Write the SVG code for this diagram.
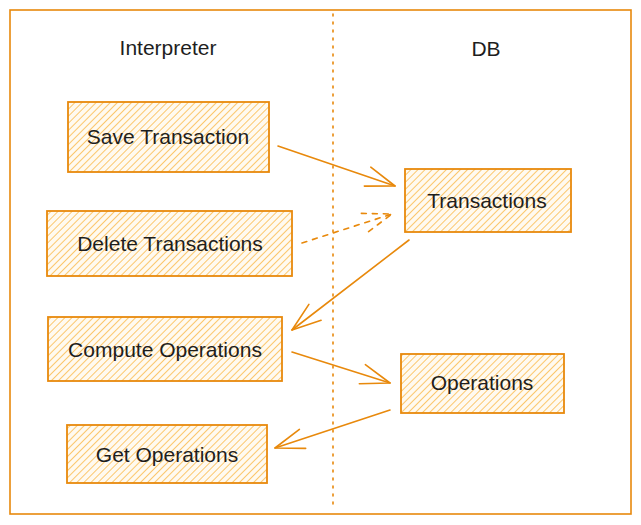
<svg xmlns="http://www.w3.org/2000/svg" width="641" height="525" viewBox="0 0 641 525">
<style>
.frame{fill:#ffffff;stroke:#e8890c;stroke-width:1.6}
.box{fill:url(#hatch);stroke:#e8890c;stroke-width:1.8}
.lbl{font-family:"Liberation Sans",Arial,sans-serif;font-size:21px;fill:#1e1e1e;text-anchor:middle}
.conn{fill:none;stroke:#e8890c;stroke-width:1.6;stroke-linecap:round}
.dash{stroke-dasharray:5 6}
.divider{fill:none;stroke:#e8890c;stroke-width:1.6;stroke-dasharray:2 6;stroke-linecap:round}
</style>
<defs>
<pattern id="hatch" patternUnits="userSpaceOnUse" width="5" height="5" patternTransform="rotate(45)">
<rect width="5" height="5" fill="#fffaf0"/>
<line x1="0" y1="0" x2="0" y2="5" stroke="#fbc15e" stroke-width="1.8"/>
</pattern>
<marker id="arr" markerUnits="userSpaceOnUse" markerWidth="40" markerHeight="30" viewBox="-32 -15 40 30" refX="0" refY="0" orient="auto" overflow="visible">
<path d="M-29,-10 L0,0 L-29,10" fill="none" stroke="#e8890c" stroke-width="1.6" stroke-linecap="round" stroke-linejoin="round"/>
</marker>
<marker id="arrd" markerUnits="userSpaceOnUse" markerWidth="40" markerHeight="30" viewBox="-32 -15 40 30" refX="0" refY="0" orient="auto" overflow="visible">
<path d="M-29,-10 L0,0 L-29,10" fill="none" stroke="#e8890c" stroke-width="1.6" stroke-linecap="round" stroke-dasharray="5 6"/>
</marker>
</defs>
<rect width="641" height="525" fill="#ffffff"/>
<rect class="frame" x="10" y="10" width="621" height="504"/>
<line class="divider" x1="333" y1="14" x2="333" y2="510"/>
<text class="lbl" x="168" y="55">Interpreter</text>
<text class="lbl" x="486" y="56">DB</text>

<g id="save-transaction">
<rect class="box" x="68" y="102" width="201" height="70"/>
<text class="lbl" x="168" y="144">Save Transaction</text>
</g>
<g id="delete-transactions">
<rect class="box" x="47" y="211" width="245" height="65"/>
<text class="lbl" x="170" y="251">Delete Transactions</text>
</g>
<g id="compute-operations">
<rect class="box" x="48" y="317" width="234" height="64"/>
<text class="lbl" x="165" y="357">Compute Operations</text>
</g>
<g id="get-operations">
<rect class="box" x="67" y="425" width="200" height="58"/>
<text class="lbl" x="167" y="462">Get Operations</text>
</g>
<g id="transactions">
<rect class="box" x="405" y="169" width="166" height="63"/>
<text class="lbl" x="487" y="208">Transactions</text>
</g>
<g id="operations">
<rect class="box" x="401" y="354" width="163" height="59"/>
<text class="lbl" x="482" y="390">Operations</text>
</g>

<g id="connectors">
<line class="conn" x1="278" y1="146" x2="395" y2="186" marker-end="url(#arr)"/>
<line class="conn dash" x1="302" y1="243" x2="392" y2="214" marker-end="url(#arrd)"/>
<line class="conn" x1="409" y1="240" x2="292" y2="330" marker-end="url(#arr)"/>
<line class="conn" x1="292" y1="352" x2="390" y2="383" marker-end="url(#arr)"/>
<line class="conn" x1="390" y1="410" x2="275" y2="448" marker-end="url(#arr)"/>
</g>
</svg>
